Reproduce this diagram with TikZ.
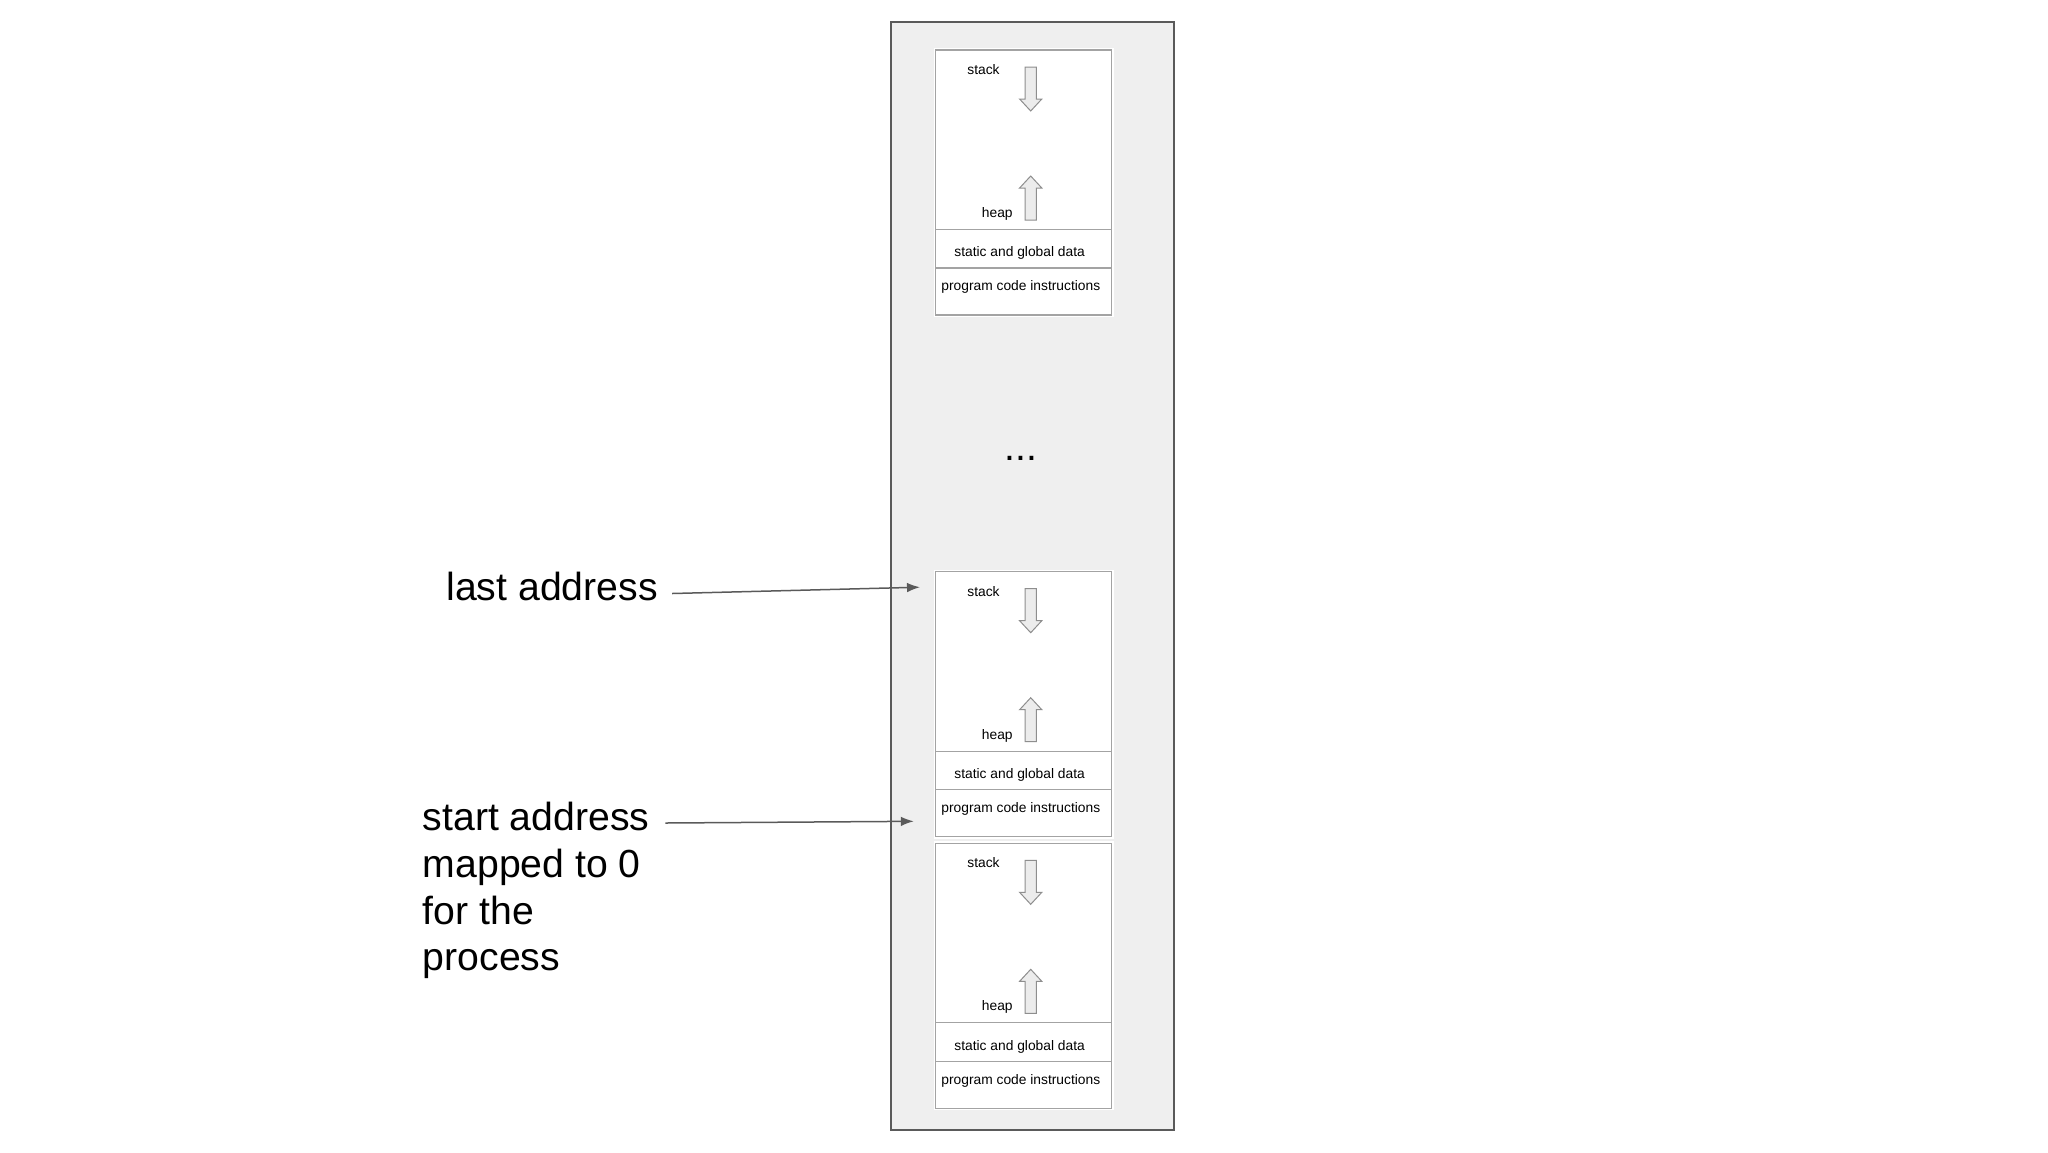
\documentclass[tikz,border=0pt]{standalone}
\usepackage{fontspec}
\setmainfont{Liberation Sans}
\usetikzlibrary{arrows.meta}
\definecolor{outerfill}{HTML}{EFEFEF}
\definecolor{outerline}{HTML}{5A5A5A}
\definecolor{boxline}{HTML}{A3A3A3}
\definecolor{arrowline}{HTML}{8E8E8E}
\definecolor{arrowfill}{HTML}{ECECEC}
\definecolor{ptrline}{HTML}{5A5A5A}
\tikzset{
  region/.style={draw=boxline, fill=white, line width=0.6pt},
  small/.style={font=\fontsize{6.9}{8.3}\selectfont, inner sep=0pt, text=black},
  big/.style={font=\fontsize{19.6}{23.4}\selectfont, inner sep=0pt, text=black},
  blockarrow/.style={draw=arrowline, fill=arrowfill, line width=0.5pt, line join=miter},
  ptr/.style={draw=ptrline, line width=0.75pt, -{Latex[length=6.5pt,width=4.8pt]}},
  outerbox/.style={draw=outerline, fill=outerfill, line width=1pt, inner sep=0pt, outer sep=0pt},
  memblock/.pic={
    \path[fill=white] (-2,-2) rectangle (178,267);
    \draw[region] (0,0) rectangle (176,179.5);
    \draw[region] (0,179.5) rectangle (176,218);
    \draw[region] (0,218) rectangle (176,265);
    \node[small, anchor=base west] (-stack) at (31.5,24.3) {stack};
    \node[small, anchor=base west] (-heap) at (46,167.3) {heap};
    \node[small, anchor=base west] (-static) at (18.5,206.7) {static and global data};
    \node[small, anchor=base west] (-code) at (5.5,240.7) {program code instructions};
    \draw[blockarrow] (89.5,17) -- (100.9,17) -- (100.9,49) -- (106.3,49) -- (95.2,61) -- (84.1,49) -- (89.5,49) -- cycle;
    \draw[blockarrow] (89.5,170) -- (100.9,170) -- (100.9,138) -- (106.3,138) -- (95.2,126) -- (84.1,138) -- (89.5,138) -- cycle;
  }
}
\begin{document}
\begin{tikzpicture}[x=0.5pt,y=-0.5pt]
\useasboundingbox (0,0) rectangle (2048,1152);
\node[outerbox, anchor=north west, minimum width=141.5pt, minimum height=554pt] (mem) at (891,22) {};
\pic (b1) at (935.5,50) {memblock};
\pic (b2) at (935.5,571.7) {memblock};
\pic (b3) at (935.5,843.3) {memblock};
\node[big, anchor=base] (dots) at (1020.7,460) {...};
\node[big, anchor=base west] (last) at (446,600.5) {last address};
\node[big, anchor=north west, align=left] (start) at (422.4,801.6) {start address\\mapped to 0\\for the\\process};
\coordinate (lasttip) at (920,587.2);
\coordinate (starttip) at (913.8,821.3);
\draw[ptr] ([shift={(14,-7)}]last.base east) -- (lasttip);
\draw[ptr] ([shift={(15.5,21.4)}]start.north east) -- (starttip);
\end{tikzpicture}
\end{document}
